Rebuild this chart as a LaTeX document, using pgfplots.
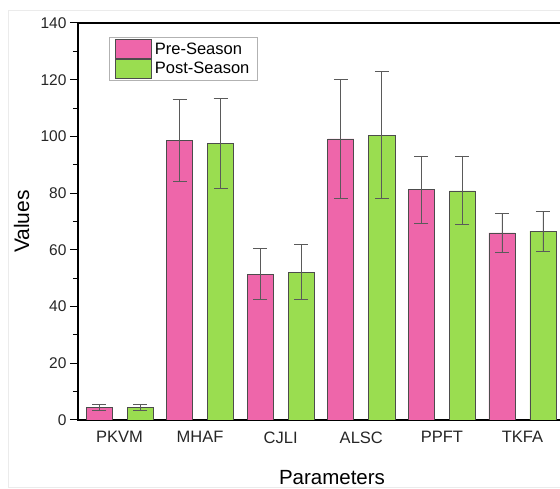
\documentclass[border=0pt]{standalone}
\usepackage{pgfplots}
\pgfplotsset{compat=1.18}
\usepackage{pgfplotstable}
\usepackage{fontspec}
\setmainfont{Liberation Sans}
\definecolor{pinkbar}{HTML}{EE66AA}
\definecolor{greenbar}{HTML}{9ADD50}
\definecolor{errcol}{HTML}{5A5A5A}
\pgfplotstableread{
x y ep em
0 4.45 1.0 1.1
1 98.7 14.4 14.5
2 51.4 9.1 9.0
3 99.1 20.9 21.1
4 81.2 11.9 11.9
5 66.0 6.8 6.8
}\pre
\pgfplotstableread{
x y ep em
0 4.5 1.1 1.0
1 97.6 15.9 16.1
2 52.1 9.7 9.5
3 100.5 22.3 22.3
4 80.8 12.3 12.0
5 66.6 6.9 7.1
}\post
\begin{document}
\begin{tikzpicture}
\begin{scope}
\clip (-78pt,-69pt) rectangle (482pt,420pt);
\fill[white] (-78pt,-69pt) rectangle (482pt,420pt);
\draw[black!8] (-70pt,-67pt) rectangle (600pt,410pt);
\begin{axis}[
  at={(0pt,0pt)}, anchor=south west,
  scale only axis, width=508pt, height=397pt,
  ybar=15pt, bar width=26pt,
  xmin=-0.515, xmax=5.788, ymin=0, ymax=140,
  xtick={0,...,5}, xticklabels={PKVM,MHAF,CJLI,ALSC,PPFT,TKFA},
  ytick={0,20,...,140}, minor y tick num=1,
  xtick pos=bottom, ytick pos=left,
  x tick style={draw=none},
  y tick style={black, line width=1pt},
  tick align=outside, major tick length=8pt, minor tick length=5pt,
  axis line style={black, line width=1.3pt},
  /pgf/number format/assume math mode=true,
  yticklabel style={font=\fontsize{15.5}{15.5}\selectfont, color=black!85},
  xticklabel style={font=\fontsize{16.5}{16.5}\selectfont, color=black!85},
  xlabel={Parameters}, ylabel={Values},
  xlabel style={at={(axis description cs:0.5,-0.1637)}, anchor=base, font=\fontsize{20.5}{20.5}\selectfont},
  ylabel style={at={(axis description cs:-0.1112,0.5)}, anchor=center, font=\fontsize{21}{21}\selectfont},
  legend style={at={(axis description cs:0.061,0.965)}, anchor=north west,
    draw=gray!60, line width=0.6pt, inner xsep=6pt, inner ysep=2pt, row sep=0pt,
    font=\fontsize{16.5}{16.5}\selectfont, cells={anchor=west}},
  legend image code/.code={\draw[#1, draw=gray!60!black, line width=0.6pt] (0pt,-9.5pt) rectangle (36pt,9.5pt);},
  error bars/error bar style={errcol, line width=0.8pt},
  error bars/error mark options={errcol, rotate=90, mark size=7pt, line width=0.8pt},
]
\addplot[fill=pinkbar, draw=gray!60!black, line width=0.6pt,
  error bars/.cd, y dir=both, y explicit]
  table[x=x, y=y, y error plus=ep, y error minus=em] {\pre};
\addplot[fill=greenbar, draw=gray!60!black, line width=0.6pt,
  error bars/.cd, y dir=both, y explicit]
  table[x=x, y=y, y error plus=ep, y error minus=em] {\post};
\legend{\hspace{1pt}Pre-Season\hspace{6pt}, \hspace{1pt}Post-Season\hspace{6pt}}
\end{axis}
\end{scope}
\pgfresetboundingbox
\useasboundingbox (-78pt,-69pt) rectangle (482pt,420pt);
\end{tikzpicture}
\end{document}
